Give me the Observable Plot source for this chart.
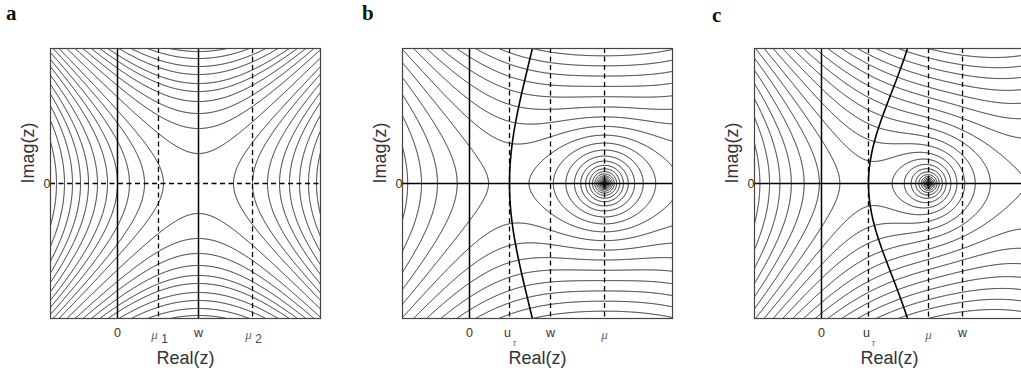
<!DOCTYPE html>
<html><head><meta charset="utf-8">
<script src="https://cdn.jsdelivr.net/npm/d3@7"></script>
<script src="https://cdn.jsdelivr.net/npm/@observablehq/plot@0.6"></script>
<style>
html,body{margin:0;padding:0;background:#fff;overflow:hidden;width:1021px;height:376px}
.panel{position:absolute;top:0}
.letter{position:absolute;font-family:"Liberation Serif","DejaVu Serif",serif;font-weight:bold;font-size:21px;color:#111;line-height:1}
</style></head><body>
<script>
// ---------- shared view window (data units: 0 -> origin, panel-a w -> 1) ----------
const xDomain = [-0.827, 2.506];
const yDomain = [-1.667, 1.667];

// ---------- panel a ----------
const aW = 1.0, aMu1 = 0.506, aMu2 = 1.667;
const aLevelsPos = [0.187, 0.444, 0.726, 1.0, 1.262, 1.555, 1.844, 2.122, 2.420, 2.737, 3.073];
const aLevelsNeg = [-0.137, -0.461, -0.747, -1.025, -1.290, -1.524, -1.811, -2.086, -2.382, -2.656];
const aSolid = [0, aW];
const aDashed = [aMu1, aMu2];
const aTicks = [
  {x: 0, base: "0", sub: "", greek: false},
  {x: aMu1, base: "μ", sub: "1", greek: true},
  {x: aW, base: "w", sub: "", greek: false},
  {x: aMu2, base: "μ", sub: "2", greek: true}
];

// ---------- panel b ----------
const bU = 0.494, bW = 1.0, bMu = 1.667, bCenter = 1.667, bK = 1.376;
const bLevels = [-1.869, -1.569, -1.269, -0.969, -0.669, -0.369, -0.069, 0.231, 0.531, 0.831, 1.131,
  1.431, 1.731, 2.031, 2.331, 2.631, 2.931, 3.231, 3.531, 3.831, 4.131, 4.431, 4.731, 5.031, 5.331, 5.631, 5.931];
const bSolid = [0];
const bDashed = [bU, bW, bMu];
const bTicks = [
  {x: 0, base: "0", sub: "", greek: false},
  {x: bU, base: "u", sub: "τ", greek: false},
  {x: bW, base: "w", sub: "", greek: false},
  {x: bMu, base: "μ", sub: "", greek: true}
];

// ---------- panel c ----------
const cU = 0.580, cMu = 1.321, cW = 1.741, cCenter = 1.88, cK = 0.963;
const cLevels = [-1.72, -1.47, -1.22, -0.97, -0.72, -0.47, -0.22, 0.03, 0.28, 0.53, 0.78, 1.03,
  1.28, 1.53, 1.78, 2.03, 2.28, 2.53, 2.78, 3.03, 3.28, 3.53, 3.78, 4.03, 4.28];
const cSolid = [0];
const cDashed = [cU, cMu, cW];
const cTicks = [
  {x: 0, base: "0", sub: "", greek: false},
  {x: cU, base: "u", sub: "τ", greek: false},
  {x: cMu, base: "μ", sub: "", greek: true},
  {x: cW, base: "w", sub: "", greek: false}
];

const panels = [
  {left: 0, letter: "a", letterX: 6, field: (x, y) => (x - aW) ** 2 - y ** 2,
   levels: aLevelsPos.concat(aLevelsNeg), solid: aSolid, dashed: aDashed, ticks: aTicks, axisDashed: true, path: null},
  {left: 352, letter: "b", letterX: 362,
   field: (x, y) => ((x - bCenter) ** 2 - y ** 2) / 2 - bK * 0.5 * Math.log((x - bMu) ** 2 + y ** 2),
   levels: bLevels, solid: bSolid, dashed: bDashed, ticks: bTicks, axisDashed: false,
   path: {fn: (x, y) => (x - bCenter) * Math.abs(y) - bK * Math.atan2(Math.abs(y), x - bMu), level: -bK * Math.PI}},
  {left: 704, letter: "c", letterX: 712,
   field: (x, y) => ((x - cCenter) ** 2 - y ** 2) / 2 - cK * 0.5 * Math.log((x - cMu) ** 2 + y ** 2),
   levels: cLevels, solid: cSolid, dashed: cDashed, ticks: cTicks, axisDashed: false,
   path: {fn: (x, y) => (x - cCenter) * Math.abs(y) - cK * Math.atan2(Math.abs(y), x - cMu), level: -cK * Math.PI}}
];

const sans = "'Liberation Sans', Arial, Helvetica, sans-serif";
const serif = "'Liberation Serif', 'Times New Roman', serif";
const pad = 0.05;

for (const p of panels) {
  const marks = [
    Plot.contour({
      x1: xDomain[0] - pad, x2: xDomain[1] + pad, y1: yDomain[0] - pad, y2: yDomain[1] + pad,
      value: p.field, thresholds: p.levels, fill: "none", stroke: "#000", strokeWidth: 0.85,
      pixelSize: 0.5, clip: true
    }),
    Plot.ruleX(p.solid, {stroke: "#000", strokeWidth: 1.5}),
    Plot.ruleX(p.dashed, {stroke: "#000", strokeWidth: 1.3, strokeDasharray: "5,3.5"}),
    Plot.ruleY([0], p.axisDashed ? {stroke: "#000", strokeWidth: 1.3, strokeDasharray: "5,3.5"} : {stroke: "#000", strokeWidth: 1.6})
  ];
  if (p.path) {
    marks.push(Plot.contour({
      x1: xDomain[0] - pad, x2: xDomain[1] + pad, y1: yDomain[0] - pad, y2: yDomain[1] + pad,
      value: p.path.fn, thresholds: [p.path.level], fill: "none", stroke: "#000", strokeWidth: 1.6,
      pixelSize: 0.5, clip: true
    }));
  }
  marks.push(Plot.frame({stroke: "#444", strokeWidth: 1.2}));
  const plain = p.ticks.filter(t => !t.sub && !t.greek);
  const greekPlain = p.ticks.filter(t => !t.sub && t.greek);
  const withSub = p.ticks.filter(t => t.sub);
  marks.push(Plot.text(plain, {x: "x", text: "base", frameAnchor: "bottom", dy: 18, fontSize: 12.5, fontFamily: sans, fill: "#333"}));
  marks.push(Plot.text(greekPlain, {x: "x", text: "base", frameAnchor: "bottom", dy: 20, fontSize: 13, fontFamily: serif, fontStyle: "italic", fill: "#666"}));
  for (const t of withSub) {
    const g = t.greek;
    marks.push(Plot.text([t], {x: "x", text: "base", frameAnchor: "bottom", dy: g ? 20 : 18, dx: g ? -4 : -2,
      fontSize: g ? 13 : 12.5, fontFamily: g ? serif : sans, fontStyle: g ? "italic" : "normal", fill: g ? "#666" : "#333"}));
    const subGreek = t.sub === "τ";
    marks.push(Plot.text([t], {x: "x", text: "sub", frameAnchor: "bottom", dy: subGreek ? 27 : 24, dx: g ? 6 : 5,
      fontSize: subGreek ? 9.5 : 12, fontFamily: subGreek ? serif : sans, fontStyle: subGreek ? "italic" : "normal", fill: subGreek ? "#666" : "#444"}));
  }
  marks.push(Plot.text(["Real(z)"], {frameAnchor: "bottom", dy: 45, fontSize: 18, fontFamily: sans, fill: "#333"}));
  marks.push(Plot.text([0], {y: d => d, text: () => "0", frameAnchor: "left", dx: -7, fontSize: 12.5, fontFamily: sans, fill: "#333"}));
  marks.push(Plot.text(["Imag(z)"], {frameAnchor: "left", dx: -22, rotate: -90, fontSize: 18, fontFamily: sans, fill: "#333"}));

  const svg = Plot.plot({
    width: 340, height: 376,
    marginLeft: 50, marginRight: 20, marginTop: 48, marginBottom: 58,
    x: {domain: xDomain, axis: null},
    y: {domain: yDomain, axis: null},
    style: {background: "transparent", overflow: "visible"},
    marks
  });
  svg.classList.add("panel");
  svg.style.left = p.left + "px";
  svg.style.position = "absolute";
  document.body.appendChild(svg);
  const lt = document.createElement("div");
  lt.className = "letter";
  lt.textContent = p.letter;
  lt.style.left = p.letterX + "px";
  lt.style.top = (p.letter === "c" ? 5 : 3) + "px";
  document.body.appendChild(lt);
}
</script></body></html>
